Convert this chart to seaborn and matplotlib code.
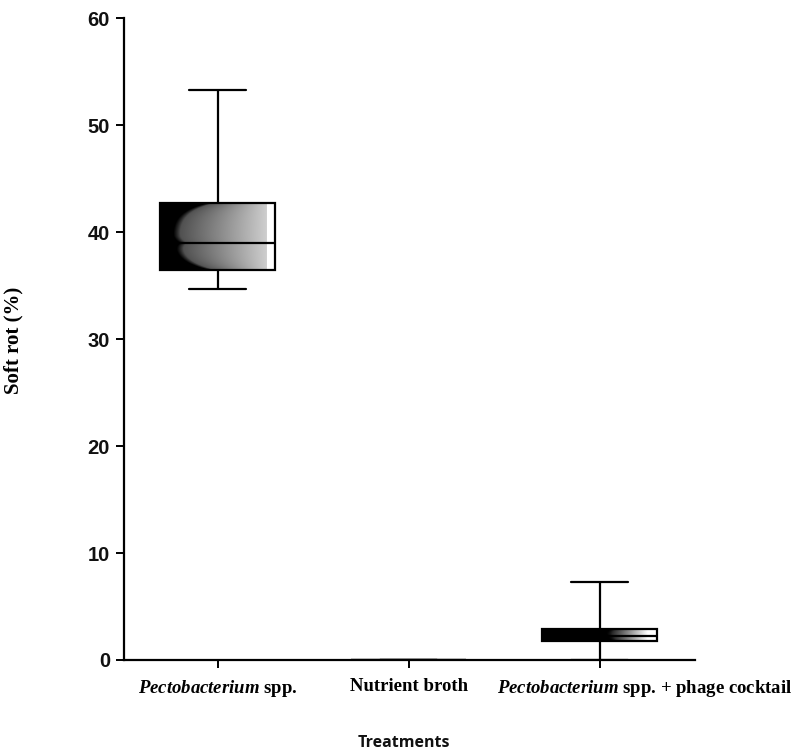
import numpy as np
import pandas as pd
import matplotlib
matplotlib.use("Agg")
import matplotlib.pyplot as plt
import matplotlib.transforms as mtransforms
import seaborn as sns

# ---- data (five-number summaries) ----
categories = ["Pectobacterium spp.", "Nutrient broth", "Pectobacterium spp. + phage cocktail"]
pecto_vals = [34.7, 36.5, 39.0, 42.7, 53.3]
broth_vals = [0.0, 0.0, 0.0, 0.0, 0.0]
phage_vals = [0.0, 1.8, 2.2, 2.9, 7.3]
tick_labels = [r"$\mathit{Pectobacterium}$ spp.", "Nutrient broth",
               r"$\mathit{Pectobacterium}$ spp. + phage cocktail"]
y_ticks = [0, 10, 20, 30, 40, 50, 60]

df = pd.DataFrame({
    "Treatment": [categories[0]] * len(pecto_vals) + [categories[1]] * len(broth_vals)
                 + [categories[2]] * len(phage_vals),
    "Soft rot": pecto_vals + broth_vals + phage_vals,
})

sns.set_theme(style="white")
plt.rcParams["mathtext.fontset"] = "custom"
plt.rcParams["mathtext.it"] = "Liberation Serif:italic:bold"
plt.rcParams["mathtext.rm"] = "Liberation Serif:bold"

fig = plt.figure(figsize=(8, 7.56), dpi=100)
ax = fig.add_axes([0.155, 0.127, 0.714, 0.849])

sns.boxplot(data=df, x="Treatment", y="Soft rot", order=categories, ax=ax,
            width=0.6, whis=(0, 100), color="white", linecolor="black",
            linewidth=1.6, showfliers=False)

ax.set_xlim(-0.49, 2.5)
ax.set_ylim(0, 60)
ax.set_yticks(y_ticks)
ax.set_xlabel("")
ax.set_ylabel("")
for s in ["top", "right"]:
    ax.spines[s].set_visible(False)
for s in ["left", "bottom"]:
    ax.spines[s].set_color("black")
    ax.spines[s].set_linewidth(1.6)
    ax.spines[s].set_zorder(5)
ax.tick_params(axis="both", direction="out", length=6, width=1.4, color="black",
               left=True, bottom=True)
ax.tick_params(axis="y", pad=4)
ax.tick_params(axis="x", pad=7)

ax.set_xticks(range(3))
ax.set_xticklabels(tick_labels, fontsize=13.5, fontfamily="Liberation Serif",
                   fontweight="bold", color="black")
# the third label sits to the right of its tick in the reference
lab3 = ax.get_xticklabels()[2]
lab3.set_transform(lab3.get_transform()
                   + mtransforms.ScaledTranslation(45 / 100, 0, fig.dpi_scale_trans))
for lab in ax.get_yticklabels():
    lab.set_fontfamily("Liberation Sans")
    lab.set_fontweight("bold")
    lab.set_fontsize(14.5)
    lab.set_color("#111111")

fig.text(13 / 800, 1 - 340 / 756, "Soft rot (%)", rotation=90, ha="center", va="center",
         fontsize=15, fontfamily="Liberation Serif", fontweight="bold", color="black")
fig.text(404 / 800, 1 - 743 / 756, "Treatments", ha="center", va="center",
         fontsize=11.5, fontfamily="Open Sans", fontweight="bold", color="#111111")

# ---- gradient fill clipped to each box ----
fig.canvas.draw()
medians = [np.median(pecto_vals), np.median(broth_vals), np.median(phage_vals)]
styles = [dict(u_min=0.10, edge=0.33, decay=9.0, med=0.06, lo=0.28, hi=0.80),
          dict(u_min=0.10, edge=0.33, decay=9.0, med=0.06, lo=0.28, hi=0.80),
          dict(u_min=0.52, edge=0.08, decay=3.0, med=0.03, lo=0.0, hi=1.0)]
for i, patch in enumerate(ax.patches):
    verts = patch.get_path().vertices
    trans = patch.get_transform() - ax.transData
    dv = trans.transform(verts)
    x0, x1 = dv[:, 0].min(), dv[:, 0].max()
    y0, y1 = dv[:, 1].min(), dv[:, 1].max()
    if y1 - y0 <= 0:
        continue
    st = styles[i]
    p0 = ax.transData.transform((x0, y0))
    p1 = ax.transData.transform((x1, y1))
    wpx = max(int(abs(p1[0] - p0[0])), 2)
    hpx = max(int(abs(p1[1] - p0[1])), 2)
    pm = ax.transData.transform((x0, medians[i]))[1]
    xs = (np.arange(wpx) + 0.5) / wpx
    ys = p0[1] + (np.arange(hpx) + 0.5)
    U, Y = np.meshgrid(xs, ys)
    d_edge = np.minimum(Y - p0[1], p1[1] - Y)
    d_med = np.abs(Y - pm)
    u0 = (st["u_min"] + st["edge"] * np.exp(-d_edge / st["decay"])
          + st["med"] * np.exp(-d_med / 4.0))
    t = np.clip((U - u0) / 0.06, 0, 1)
    r = np.clip((U - u0) / (0.92 - u0), 0, 1)
    bright = t * (st["lo"] + (st["hi"] - st["lo"]) * r)
    bright = np.where(U > 0.93, 1.0, bright)
    im = ax.imshow(bright, cmap="gray", vmin=0, vmax=1, origin="lower",
                   extent=(x0, x1, y0, y1), aspect="auto", interpolation="bilinear",
                   zorder=patch.get_zorder() - 0.1)
    im.set_clip_path(patch)
    patch.set_facecolor("none")
    patch.set_zorder(patch.get_zorder() + 0.2)

ax.set_xlim(-0.49, 2.5)
ax.set_ylim(0, 60)
fig.savefig("out.png", dpi=100)
